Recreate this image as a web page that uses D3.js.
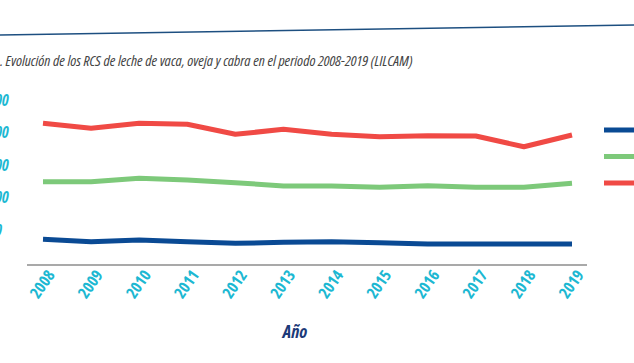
<!DOCTYPE html>
<html><head><meta charset="utf-8">
<script src="https://cdn.jsdelivr.net/npm/d3@7"></script>
<style>
body{margin:0;background:#fff;}
svg{display:block;}
text{font-family:"Liberation Sans Narrow","Open Sans",sans-serif;font-stretch:condensed;}
</style></head>
<body><svg id="c" width="634" height="363"></svg>
<script>
const years = [2008,2009,2010,2011,2012,2013,2014,2015,2016,2017,2018,2019];
const vaca  = [357,320,346,320,295,311,320,305,285,285,285,285];
const oveja = [1243,1243,1295,1269,1228,1177,1177,1157,1182,1157,1157,1218];
const cabra = [2142,2065,2142,2126,1972,2049,1972,1935,1951,1946,1781,1962];
const yTicks = [500,1000,1500,2000,2500];
const seriesNames = ["Vaca","Oveja","Cabra"];
const colors = ["#0a4a94","#7dc97a","#f04a45"];
const title = ". Evolución de los RCS de leche de vaca, oveja y cabra en el periodo 2008-2019 (LILCAM)";
const xTitle = "Año";

const svg = d3.select("#c");
svg.append("line").attr("x1",0).attr("y1",35).attr("x2",634).attr("y2",25)
  .attr("stroke","#1d4f80").attr("stroke-width",1.6);

svg.append("text").attr("x",0).attr("y",66).text(title)
  .attr("font-size",15).attr("font-style","italic").attr("fill","#444");

const x = d3.scalePoint().domain(years).range([43,572]);
const y = d3.scaleLinear().domain([0,2500]).range([262.5,100]);

svg.append("g").selectAll("text").data(yTicks).join("text")
  .attr("x",-19).attr("y",d=>y(d)).attr("dy","0.35em")
  .attr("font-size",16).attr("font-weight","bold").attr("font-style","italic")
  .attr("fill","#1cb8d2").text(d=>d);

const xAxis = svg.append("g").attr("transform","translate(0,265)")
  .call(d3.axisBottom(x).tickSize(0).tickPadding(0));
xAxis.select(".domain").attr("d","M27,0H587").attr("stroke","#555").attr("stroke-width",1.2);
xAxis.selectAll(".tick text")
  .attr("font-size",16).attr("font-weight","bold").attr("fill","#1cb8d2")
  .attr("text-anchor","end").attr("dy",null)
  .attr("transform","translate(12,10) rotate(-55)").attr("y",0).attr("x",0);

svg.append("text").attr("x",295).attr("y",338).attr("text-anchor","middle")
  .attr("font-size",18).attr("font-weight","bold").attr("font-style","italic")
  .attr("fill","#1c3a78").text(xTitle);

const data = [vaca,oveja,cabra];
const line = d3.line().x((d,i)=>x(years[i])).y(d=>y(d));
svg.append("g").selectAll("path").data(data).join("path")
  .attr("d",line).attr("fill","none").attr("stroke",(d,i)=>colors[i])
  .attr("stroke-width",5).attr("stroke-linejoin","round");

svg.append("g").selectAll("line").data(seriesNames).join("line")
  .attr("x1",604).attr("x2",640)
  .attr("y1",(d,i)=>130+i*26.5).attr("y2",(d,i)=>130+i*26.5)
  .attr("stroke",(d,i)=>colors[i]).attr("stroke-width",5);
</script></body></html>
